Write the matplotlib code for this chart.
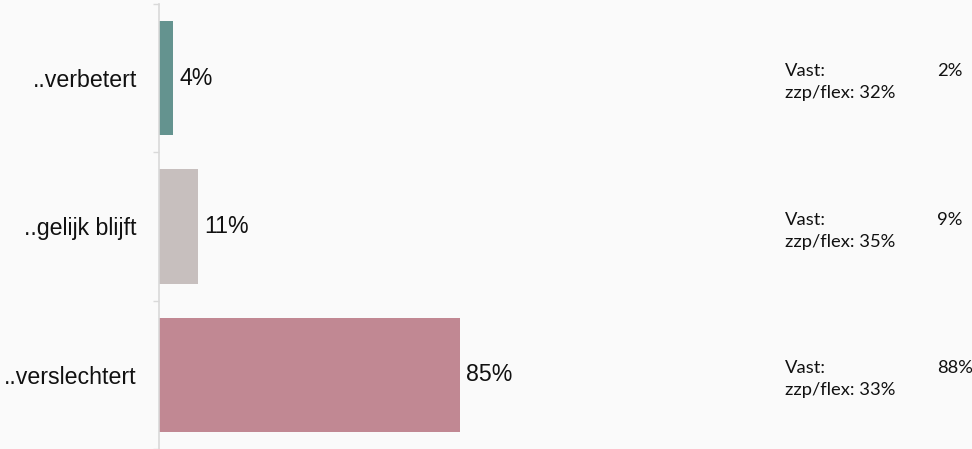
import matplotlib
matplotlib.use("Agg")
import matplotlib.pyplot as plt
import matplotlib.transforms as mtransforms

categories = ["..verbetert", "..gelijk blijft", "..verslechtert"]
totals = [4, 11, 85]
vast = [2, 9, 88]
zzp_flex = [32, 35, 33]
colors = ["#64938F", "#C7BFBE", "#C18893"]

bg = "#FAFAFA"
fig = plt.figure(figsize=(9.72, 4.49), dpi=100, facecolor=bg)
ax = fig.add_axes([159 / 972, 0.0, (513 - 159) / 972, 1 - 4 / 449])
ax.set_facecolor(bg)

y = list(range(len(categories)))
ax.barh(y, totals, height=0.77, color=colors)
ax.set_ylim(len(categories) - 0.5, -0.5)
ax.set_xlim(0, 100)

for yi, v in zip(y, totals):
    ax.annotate(f"{v}%", xy=(v, yi), xytext=(4.5, 0), textcoords="offset points",
                ha="left", va="center", fontsize=16.7, family="Liberation Sans",
                color="#111111")

ax.set_yticks(y)
ax.set_yticklabels(categories, fontsize=16.7, family="Liberation Sans", color="#111111")
ax.tick_params(axis="y", which="major", length=0, pad=16)
ax.set_yticks([i - 0.5 for i in range(len(categories) + 1)], minor=True)
ax.tick_params(axis="y", which="minor", length=4, color="#D9D9D9", width=1)
ax.set_xticks([])
for s in ["top", "right", "bottom"]:
    ax.spines[s].set_visible(False)
ax.spines["left"].set_color("#D9D9D9")
ax.spines["left"].set_linewidth(1.2)

# Split per contract type, right-hand side
blend = mtransforms.blended_transform_factory(fig.transFigure, ax.transData)
for yi, va_, zf in zip(y, vast, zzp_flex):
    t1 = mtransforms.offset_copy(blend, fig=fig, y=5, units="points")
    t2 = mtransforms.offset_copy(blend, fig=fig, y=-11, units="points")
    ax.text(785 / 972, yi, "Vast:", transform=t1, ha="left", va="center",
            fontsize=13.2, family="Lato", color="#111111")
    ax.text(937 / 972, yi, f"{va_}%", transform=t1, ha="left", va="center",
            fontsize=13.2, family="Lato", color="#111111")
    ax.text(785 / 972, yi, f"zzp/flex: {zf}%", transform=t2, ha="left", va="center",
            fontsize=13.2, family="Lato", color="#111111")

fig.savefig("out.png", dpi=100, facecolor=bg)
